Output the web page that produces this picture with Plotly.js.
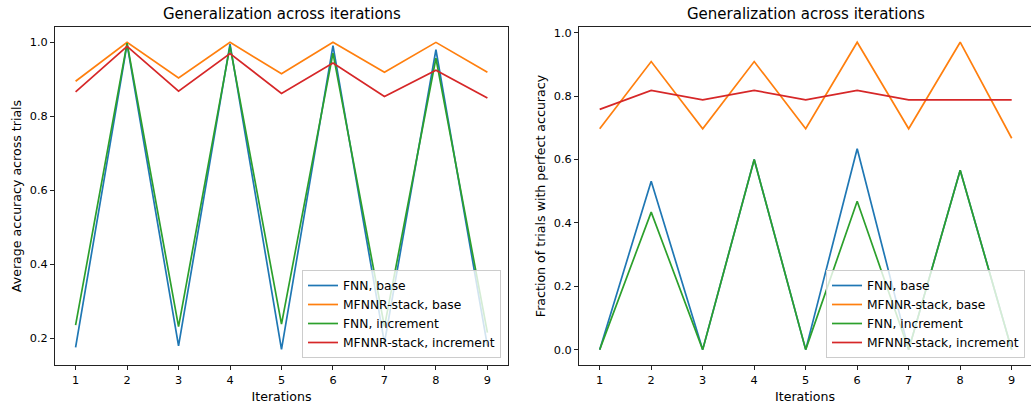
<!DOCTYPE html>
<html>
<head>
<meta charset="utf-8">
<script src="https://cdn.plot.ly/plotly-3.0.1.min.js"></script>
<style>html,body{margin:0;padding:0;background:#fff;}#chart{width:1031px;height:404px;}</style>
</head>
<body>
<div id="chart"></div>
<script>
const iterations = [1, 2, 3, 4, 5, 6, 7, 8, 9];
const seriesNames = ["FNN, base", "MFNNR-stack, base", "FNN, increment", "MFNNR-stack, increment"];
const seriesColors = ["#1f77b4", "#ff7f0e", "#2ca02c", "#d62728"];

// Left panel: average accuracy across trials
const accFnnBase = [0.176, 0.995, 0.180, 0.995, 0.171, 0.991, 0.188, 0.980, 0.180];
const accMfnnrBase = [0.895, 1.0, 0.904, 1.0, 0.915, 1.0, 0.919, 1.0, 0.919];
const accFnnInc = [0.236, 0.998, 0.232, 0.990, 0.239, 0.971, 0.232, 0.957, 0.216];
const accMfnnrInc = [0.866, 0.989, 0.868, 0.970, 0.862, 0.944, 0.854, 0.925, 0.850];

// Right panel: fraction of trials with perfect accuracy
const fracFnnBase = [0.0, 0.531, 0.0, 0.600, 0.0, 0.634, 0.0, 0.566, 0.0];
const fracMfnnrBase = [0.697, 0.909, 0.697, 0.909, 0.697, 0.970, 0.697, 0.970, 0.667];
const fracFnnInc = [0.0, 0.434, 0.0, 0.600, 0.0, 0.468, 0.0, 0.566, 0.0];
const fracMfnnrInc = [0.758, 0.818, 0.788, 0.818, 0.788, 0.818, 0.788, 0.788, 0.788];

const leftTicks = [0.2, 0.4, 0.6, 0.8, 1.0];
const rightTicks = [0.0, 0.2, 0.4, 0.6, 0.8, 1.0];

const titleText = "Generalization across iterations";
const xLabel = "Iterations";
const leftYLabel = "Average accuracy across trials";
const rightYLabel = "Fraction of trials with perfect accuracy";

const FONT = "DejaVu Sans, sans-serif";
const leftSeries = [accFnnBase, accMfnnrBase, accFnnInc, accMfnnrInc];
const rightSeries = [fracFnnBase, fracMfnnrBase, fracFnnInc, fracMfnnrInc];

const traces = [];
leftSeries.forEach((ys, i) => traces.push({
  x: iterations, y: ys, type: "scatter", mode: "lines", name: seriesNames[i],
  line: {color: seriesColors[i], width: 1.7}, xaxis: "x", yaxis: "y", legend: "legend"
}));
rightSeries.forEach((ys, i) => traces.push({
  x: iterations, y: ys, type: "scatter", mode: "lines", name: seriesNames[i],
  line: {color: seriesColors[i], width: 1.7}, xaxis: "x2", yaxis: "y2", legend: "legend2"
}));

const yBot = (404 - 365) / 404, yTop = (404 - 27) / 404;
const labelFont = {family: FONT, size: 12.6, color: "#000"};
const axisCommon = {
  showgrid: false, zeroline: false, showline: true, linecolor: "#222", linewidth: 1,
  ticks: "outside", ticklen: 4, tickwidth: 1, tickcolor: "#222",
  tickfont: {family: FONT, size: 11.3, color: "#000"}
};
const legendCommon = {
  bgcolor: "rgba(255,255,255,0.8)", bordercolor: "#cccccc", borderwidth: 1,
  font: {family: FONT, size: 12.3, color: "#000"}, xanchor: "right", yanchor: "bottom",
  itemwidth: 30, tracegroupgap: 0
};

const layout = {
  width: 1031, height: 404,
  margin: {l: 0, r: 0, t: 0, b: 0},
  paper_bgcolor: "#fff", plot_bgcolor: "#fff",
  font: {family: FONT, size: 11.3, color: "#000"},
  showlegend: true,
  xaxis: Object.assign({}, axisCommon, {
    domain: [55 / 1031, 508 / 1031], range: [0.6, 9.4], tickmode: "array", tickvals: iterations,
    mirror: true, anchor: "y",
    title: {text: xLabel, font: labelFont, standoff: 6}
  }),
  yaxis: Object.assign({}, axisCommon, {
    domain: [yBot, yTop], range: [0.1285, 1.0415], tickmode: "array", tickvals: leftTicks,
    tickformat: ".1f", mirror: true, anchor: "x",
    title: {text: leftYLabel, font: labelFont, standoff: 5}
  }),
  xaxis2: Object.assign({}, axisCommon, {
    domain: [579 / 1031, 1.0], range: [0.598, 9.375], tickmode: "array", tickvals: iterations,
    mirror: true, anchor: "y2",
    title: {text: xLabel, font: labelFont, standoff: 6}
  }),
  yaxis2: Object.assign({}, axisCommon, {
    domain: [yBot, yTop], range: [-0.0485, 1.018], tickmode: "array", tickvals: rightTicks,
    tickformat: ".1f", mirror: false, anchor: "x2",
    title: {text: rightYLabel, font: labelFont, standoff: 5}
  }),
  legend: Object.assign({}, legendCommon, {x: 501 / 1031, y: (404 - 358) / 404}),
  legend2: Object.assign({}, legendCommon, {x: 1025 / 1031, y: (404 - 358) / 404}),
  annotations: [
    {text: titleText, xref: "paper", yref: "paper", x: (55 + 508) / 2 / 1031, y: yTop,
     xanchor: "center", yanchor: "bottom", yshift: 2, showarrow: false,
     font: {family: FONT, size: 15, color: "#000"}},
    {text: titleText, xref: "paper", yref: "paper", x: (579 + 1032) / 2 / 1031, y: yTop,
     xanchor: "center", yanchor: "bottom", yshift: 2, showarrow: false,
     font: {family: FONT, size: 15, color: "#000"}}
  ]
};

Plotly.newPlot("chart", traces, layout, {staticPlot: true, displayModeBar: false});
</script>
</body>
</html>
